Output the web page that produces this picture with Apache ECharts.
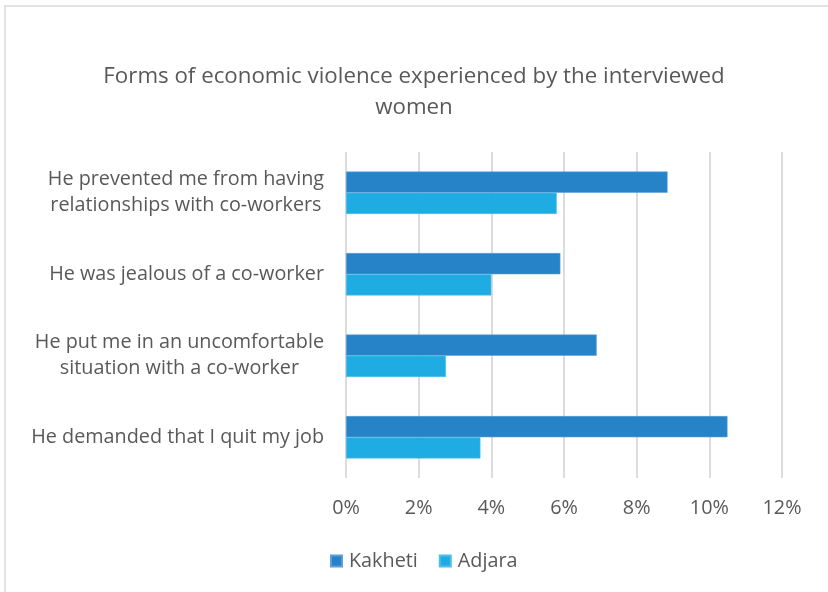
<!DOCTYPE html>
<html>
<head>
<meta charset="utf-8">
<script src="https://cdn.jsdelivr.net/npm/echarts@6/dist/echarts.min.js"></script>
<style>
  html, body { margin: 0; padding: 0; background: #fff; }
  #frame { position: absolute; left: 4px; top: 5px; width: 840px; height: 620px; border: 2px solid #e2e2e2; box-sizing: border-box; }
  #chart { position: absolute; left: 0; top: 0; width: 828px; height: 592px; }
</style>
</head>
<body>
<div id="frame"></div>
<div id="chart"></div>
<script>
// Forms of economic violence, share of interviewed women (%)
const categories = [
  'He prevented me from having\nrelationships with co-workers',
  'He was jealous of a co-worker',
  'He put me in an uncomfortable\nsituation with a co-worker',
  'He demanded that I quit my job'
];
const kakheti = [8.85, 5.9, 6.9, 10.5];
const adjara = [5.8, 4.0, 2.75, 3.7];
const seriesNames = ['Kakheti', 'Adjara'];
const seriesColors = ['#2783c7', '#1eace2'];
const titleText = 'Forms of economic violence experienced by the interviewed\nwomen';

const FONT = '"Open Sans", sans-serif';
const GRAY = '#595959';
const LABEL_SIZE = 19.8;

const chart = echarts.init(document.getElementById('chart'), null, { renderer: 'canvas' });

chart.setOption({
  animation: false,
  backgroundColor: 'transparent',
  title: {
    text: titleText,
    left: 'center',
    top: 56,
    textStyle: { fontFamily: FONT, fontSize: 22.3, fontWeight: 'normal', color: GRAY, lineHeight: 31 }
  },
  legend: {
    data: seriesNames,
    left: 330,
    top: 551,
    padding: 0,
    icon: 'rect',
    itemWidth: 11,
    itemHeight: 11,
    itemGap: 21,
    textStyle: { fontFamily: FONT, fontSize: LABEL_SIZE, color: GRAY, padding: [0, 0, 0, 2] }
  },
  grid: { left: 346, right: 46, top: 152, bottom: 114, containLabel: false },
  xAxis: {
    type: 'value',
    min: 0,
    max: 12,
    interval: 2,
    axisLine: { show: false },
    axisTick: { show: false },
    splitLine: { show: true, lineStyle: { color: '#dcdcdc', width: 2 } },
    axisLabel: { formatter: '{value}%', margin: 20, fontFamily: FONT, fontSize: LABEL_SIZE, color: GRAY }
  },
  yAxis: {
    type: 'category',
    inverse: true,
    data: categories,
    axisLine: { show: false },
    axisTick: { show: false },
    axisLabel: {
      margin: 22,
      align: 'right',
      formatter: v => v.split('\n').map(s => '{c|' + s + '}').join('\n'),
      rich: { c: { align: 'center', fontFamily: FONT, fontSize: LABEL_SIZE, color: GRAY, lineHeight: 26 } }
    }
  },
  series: [
    {
      name: seriesNames[0], type: 'bar', data: kakheti, barGap: '0%', barCategoryGap: '48%',
      itemStyle: { color: seriesColors[0], borderColor: '#5a9fd6', borderWidth: 0.6 }
    },
    {
      name: seriesNames[1], type: 'bar', data: adjara, barGap: '0%', barCategoryGap: '48%',
      itemStyle: { color: seriesColors[1], borderColor: '#4fbfe9', borderWidth: 0.6 }
    }
  ]
});
</script>
</body>
</html>
